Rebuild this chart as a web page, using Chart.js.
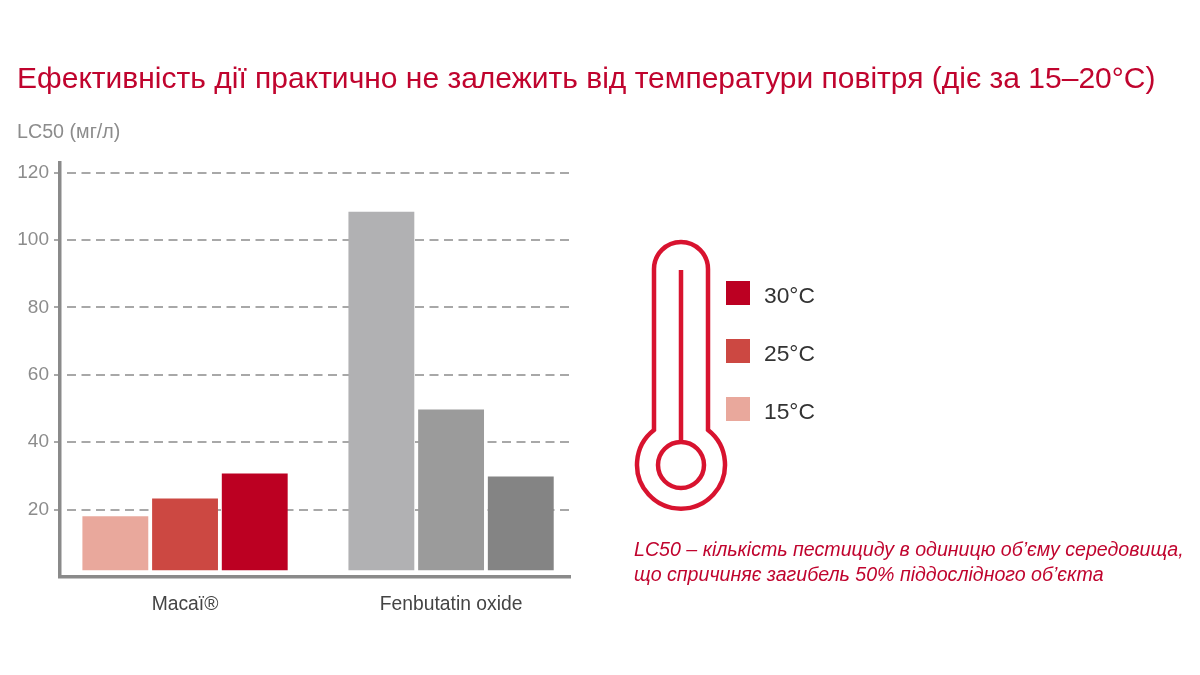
<!DOCTYPE html>
<html lang="uk">
<head>
<meta charset="utf-8">
<title>LC50</title>
<script src="https://cdn.jsdelivr.net/npm/chart.js@4/dist/chart.umd.min.js"></script>
<style>
html,body{margin:0;padding:0;background:#fff;}
#page{position:relative;width:1200px;height:675px;overflow:hidden;font-family:"Liberation Sans",Arial,sans-serif;}
#myChart{position:absolute;left:0;top:0;}
.txt{position:absolute;white-space:nowrap;}
#title{left:17px;top:60px;font-size:30px;line-height:36px;color:#c0042e;}
#unit{left:17px;top:120px;font-size:19.7px;line-height:22px;color:#8c8c8c;}
#note{left:634px;top:537px;font-size:19.6px;line-height:25px;font-style:italic;color:#c0042e;}
.sw{position:absolute;left:726px;width:24px;height:24px;}
.lab{position:absolute;left:764px;font-size:22.8px;line-height:24px;color:#333;}
#thermo{position:absolute;left:0;top:0;}
</style>
</head>
<body>
<div id="page">
  <canvas id="myChart" width="1200" height="675"></canvas>
  <div class="txt" id="title">Ефективність дії практично не залежить від температури повітря (діє за 15–20°C)</div>
  <div class="txt" id="unit">LC50 (мг/л)</div>
  <svg id="thermo" width="1200" height="675" fill="none" stroke="#d8132f" stroke-width="4.5">
    <path d="M654 430 V269 A27 27 0 0 1 708 269 V430 A44 44 0 1 1 654 430 Z"/>
    <circle cx="681" cy="465" r="23"/>
    <path d="M681 270 V442"/>
  </svg>
  <div id="legendBox"></div>
  <div class="txt" id="note">LC50 – кількість пестициду в одиницю об’єму середовища,<br>що спричиняє загибель 50% піддослідного об’єкта</div>
</div>
<script>
'use strict';
let categories=['Macaï®','Fenbutatin oxide'];
let xPositions=[1,2];
let seriesNames=['15°C','25°C','30°C'];
let values15=[18,108.4];
let values25=[23.3,49.7];
let values30=[30.7,29.8];
let yTicks=[20,40,60,80,100,120];
let colors15=['#e9a89c','#b1b1b3'];
let colors25=['#cc4842','#9b9b9b'];
let colors30=['#bc0022','#848484'];

function makeDataset(name,values,colors){
  return {
    label:name,
    data:values.map(function(v,i){return {x:xPositions[i],y:v};}),
    backgroundColor:colors,
    base:2,
    categoryPercentage:0.786,
    barPercentage:0.945
  };
}

function renderLegend(){
  let box=document.getElementById('legendBox');
  let rows=[[seriesNames[2],colors30[0],283],[seriesNames[1],colors25[0],341],[seriesNames[0],colors15[0],399]];
  for(let i=0;i<rows.length;i++){
    let sw=document.createElement('div');
    sw.className='sw';
    sw.style.background=rows[i][1];
    sw.style.top=(rows[i][2]-2)+'px';
    box.appendChild(sw);
    let lab=document.createElement('div');
    lab.className='lab';
    lab.textContent=rows[i][0];
    lab.style.top=rows[i][2]+'px';
    box.appendChild(lab);
  }
}

renderLegend();

let ctx=document.getElementById('myChart');
let myChart=new Chart(ctx,{
  type:'bar',
  data:{
    datasets:[
      makeDataset(seriesNames[0],values15,colors15),
      makeDataset(seriesNames[1],values25,colors25),
      makeDataset(seriesNames[2],values30,colors30)
    ]
  },
  options:{
    responsive:false,
    animation:false,
    layout:{padding:{left:0,right:630,top:163,bottom:0}},
    plugins:{legend:{display:false},title:{display:false},tooltip:{enabled:false}},
    scales:{
      x:{
        type:'linear',
        offset:false,
        min:0.53,
        max:2.447,
        afterBuildTicks:function(scale){
          scale.ticks=xPositions.map(function(v){return {value:v};});
        },
        afterFit:function(scale){scale.height=98;},
        grid:{display:false},
        border:{display:true,color:'#8a8a8a',width:3.5},
        ticks:{
          padding:8,
          maxRotation:0,
          autoSkip:false,
          color:'#444444',
          font:{family:'"Liberation Sans"',size:19.3},
          callback:function(v){return categories[xPositions.indexOf(v)];}
        }
      },
      y:{
        min:0,
        max:122.85,
        afterBuildTicks:function(scale){
          scale.ticks=yTicks.map(function(v){return {value:v};});
        },
        afterFit:function(scale){scale.width=60;},
        grid:{color:'#a8a8a8',lineWidth:2,tickColor:'#a8a8a8',tickLength:6,tickWidth:2},
        border:{display:true,color:'#8a8a8a',width:3.5,dash:[9,5.5],dashOffset:9},
        ticks:{
          padding:5,
          color:'#8c8c8c',
          font:{family:'"Liberation Sans"',size:19}
        }
      }
    }
  }
});
</script>
</body>
</html>
